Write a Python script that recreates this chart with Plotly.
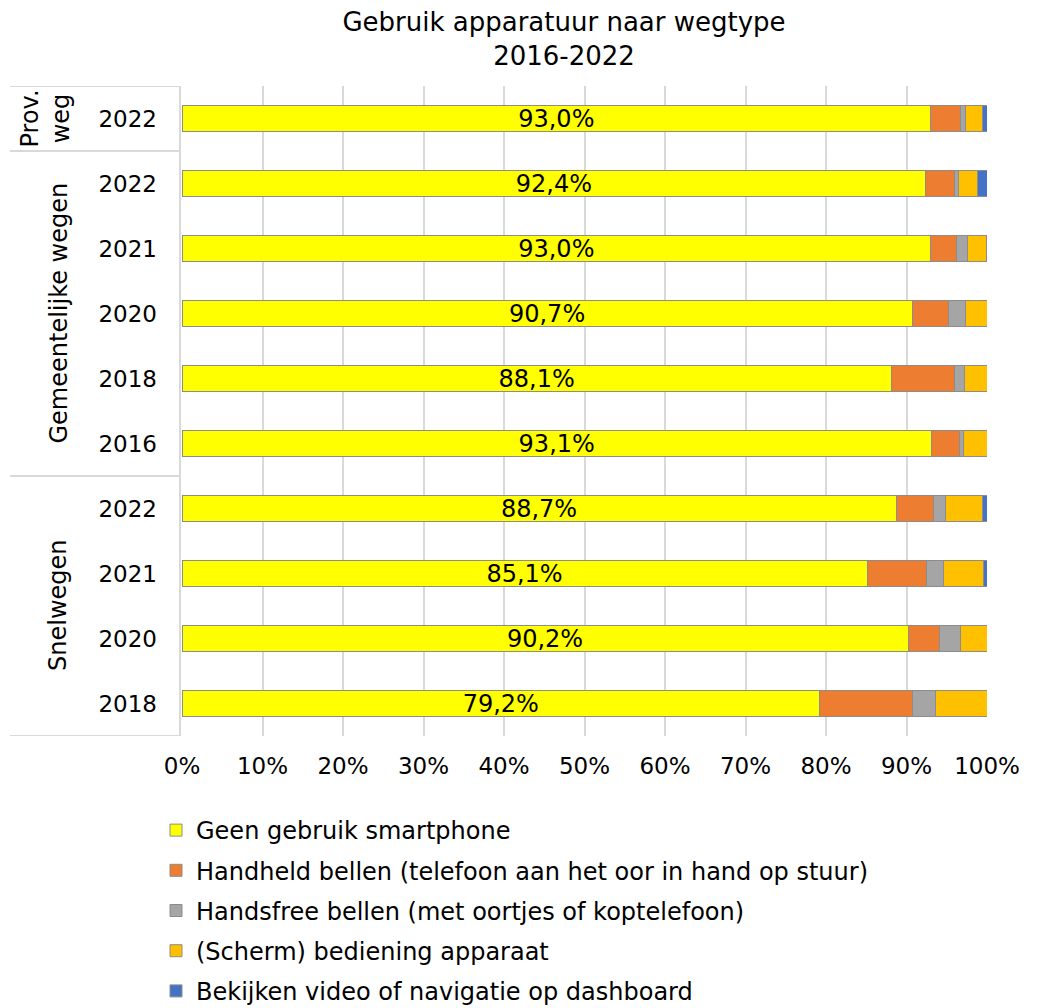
import plotly.graph_objects as go

# rows top to bottom
years  = ["2022", "2022", "2021", "2020", "2018", "2016", "2022", "2021", "2020", "2018"]
groups = ["Prov.<br>weg", "Gemeentelijke wegen", "Snelwegen"]
group_rows = [(0, 0), (1, 5), (6, 9)]
x_ticks = [0, 10, 20, 30, 40, 50, 60, 70, 80, 90, 100]

geen       = [93.0, 92.4, 93.0, 90.7, 88.1, 93.1, 88.7, 85.1, 90.2, 79.2]
handheld   = [3.7, 3.6, 3.2, 4.5, 7.9, 3.5, 4.7, 7.4, 3.9, 11.6]
handsfree  = [0.6, 0.5, 1.4, 2.1, 1.2, 0.5, 1.5, 2.1, 2.6, 2.8]
scherm     = [2.2, 2.3, 2.3, 2.7, 2.8, 2.9, 4.5, 5.0, 3.3, 6.4]
video      = [0.5, 1.2, 0.1, 0.0, 0.0, 0.0, 0.6, 0.4, 0.0, 0.0]

series = [
    ("Geen gebruik smartphone", geen, "#FFFF00"),
    ("Handheld bellen (telefoon aan het oor in hand op stuur)", handheld, "#ED7D31"),
    ("Handsfree bellen (met oortjes of koptelefoon)", handsfree, "#A5A5A5"),
    ("(Scherm) bediening apparaat", scherm, "#FFC000"),
    ("Bekijken video of navigatie op dashboard", video, "#4472C4"),
]

FONT = "DejaVu Sans, Verdana, sans-serif"
GRID = "#D9D9D9"
rows = list(range(len(years)))

# page body has an 8px margin, so figure is 8px smaller and margins shifted
OFF = 8
W_FIG, H_FIG = 1037 - OFF, 1008 - OFF
L, R, T, B = 182 - OFF, 50, 86 - OFF, 1008 - 736
PW = W_FIG - L - R

def px(x):
    # screen x (reference pixels) -> paper coordinate
    return (x - OFF - L) / PW

fig = go.Figure()
for i, (name, vals, col) in enumerate(series):
    fig.add_trace(go.Bar(
        y=rows, x=vals, name=name, orientation="h",
        marker=dict(color=col, line=dict(color="#8C8C8C", width=1)),
        width=0.4,
        legendgroup=str(i),
        texttemplate="%{x:.1f}%" if i == 0 else None,
        textposition="inside" if i == 0 else "none",
        insidetextanchor="middle",
        constraintext="none",
        textfont=dict(color="black", size=24, family=FONT),
        cliponaxis=False,
        hoverinfo="x+name",
    ))

# group labels and divider lines on the category side
for (a, b), g in zip(group_rows, groups):
    fig.add_annotation(
        x=px(45 if a == b else 58), y=(a + b) / 2, xref="paper", yref="y",
        xanchor="center", yanchor="middle",
        text=g, textangle=-90, showarrow=False,
        font=dict(size=24, family=FONT, color="black"),
    )
for yv in [-0.5, 0.5, 5.5, 9.5]:
    fig.add_shape(type="line", xref="paper", yref="y",
                  x0=px(10), x1=px(180), y0=yv, y1=yv,
                  line=dict(color=GRID, width=2))
fig.add_shape(type="line", xref="paper", yref="y",
              x0=px(180), x1=px(180), y0=-0.5, y1=9.5,
              line=dict(color=GRID, width=2))

fig.update_layout(
    barmode="stack",
    separators=",.",
    width=W_FIG, height=H_FIG,
    paper_bgcolor="white", plot_bgcolor="white",
    font=dict(family=FONT, color="black", size=23),
    title=dict(
        text="Gebruik apparatuur naar wegtype<br>2016-2022",
        x=(564 - OFF) / W_FIG, xanchor="center",
        y=1 - 23 / H_FIG, yanchor="top",
        font=dict(size=26, family=FONT, color="black"),
    ),
    margin=dict(l=L, r=R, t=T, b=B, autoexpand=False),
    xaxis=dict(
        range=[0, 100], tickvals=x_ticks,
        ticktext=[f"{v}%" for v in x_ticks],
        showgrid=True, gridcolor=GRID, gridwidth=2,
        zeroline=False, showline=False, ticks="",
        ticklabelstandoff=14,
        tickfont=dict(size=23), fixedrange=True,
    ),
    yaxis=dict(
        range=[9.5, -0.5], tickvals=rows, ticktext=years,
        showgrid=False, zeroline=False, showline=False, ticks="",
        ticklabelstandoff=24,
        tickfont=dict(size=23), fixedrange=True,
    ),
    legend=dict(
        orientation="v", x=px(156), xanchor="left",
        y=-(808 - 736) / (H_FIG - T - B), yanchor="top",
        traceorder="grouped", tracegroupgap=6,
        font=dict(size=24, family=FONT),
        itemwidth=30,
    ),
    showlegend=True,
)

fig.write_html("out.html")
